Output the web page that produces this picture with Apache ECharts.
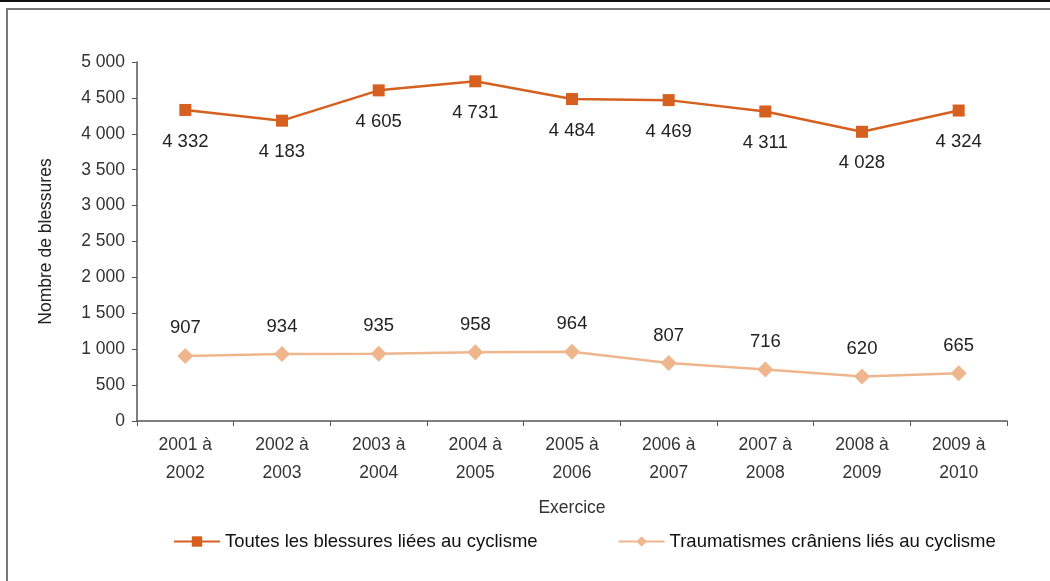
<!DOCTYPE html>
<html>
<head>
<meta charset="utf-8">
<script src="https://cdn.jsdelivr.net/npm/echarts@6/dist/echarts.min.js"></script>
<style>
  html, body { margin: 0; padding: 0; background: #fff; }
  #chartDom { width: 1050px; height: 581px; }
</style>
</head>
<body>
<div id="chartDom"></div>
<script>
var categories = ['2001 à\n2002', '2002 à\n2003', '2003 à\n2004', '2004 à\n2005', '2005 à\n2006',
  '2006 à\n2007', '2007 à\n2008', '2008 à\n2009', '2009 à\n2010'];
var toutes = [4332, 4183, 4605, 4731, 4484, 4469, 4311, 4028, 4324];
var craniens = [907, 934, 935, 958, 964, 807, 716, 620, 665];
var seriesNames = ['Toutes les blessures liées au cyclisme', 'Traumatismes crâniens liés au cyclisme'];

var font = '"Liberation Sans Narrow", "Arial Narrow", "Liberation Sans", sans-serif';

function fmt(v) {
  return String(v).replace(/\B(?=(\d{3})+(?!\d))/g, ' ');
}

var myChart = echarts.init(document.getElementById('chartDom'));

var option = {
  animation: false,
  textStyle: { fontFamily: font },
  graphic: [
    { type: 'line', shape: { x1: 0, y1: 1, x2: 1050, y2: 1 }, style: { stroke: '#111', lineWidth: 2 } },
    { type: 'polyline', shape: { points: [[7, 581], [7, 9], [1050, 9]] }, style: { stroke: '#777', lineWidth: 2, fill: null } }
  ],
  grid: { left: 137, right: 43, top: 62, bottom: 160 },
  legend: {
    bottom: 25,
    left: 168,
    itemGap: 80,
    itemWidth: 46,
    itemHeight: 13,
    textStyle: { fontFamily: font, fontSize: 18.5, color: '#111' },
    data: seriesNames
  },
  xAxis: {
    type: 'category',
    data: categories,
    name: 'Exercice',
    nameLocation: 'middle',
    nameGap: 78,
    nameTextStyle: { fontFamily: font, fontSize: 17.5, color: '#333' },
    axisLine: { lineStyle: { color: '#555', width: 1.5 } },
    axisTick: { show: true, length: 5, lineStyle: { color: '#555' } },
    axisLabel: { fontFamily: font, fontSize: 17.5, color: '#333', lineHeight: 28, margin: 10 }
  },
  yAxis: {
    type: 'value',
    min: 0,
    max: 5000,
    interval: 500,
    name: 'Nombre de blessures',
    nameLocation: 'middle',
    nameGap: 82,
    nameTextStyle: { fontFamily: font, fontSize: 17.5, color: '#222' },
    axisLine: { show: true, lineStyle: { color: '#555', width: 1.5 } },
    axisTick: { show: true, length: 5, lineStyle: { color: '#555' } },
    splitLine: { show: false },
    axisLabel: { fontFamily: font, fontSize: 17.5, color: '#333', margin: 12, formatter: fmt }
  },
  series: [
    {
      name: seriesNames[0],
      type: 'line',
      data: toutes,
      symbol: 'rect',
      symbolSize: 12,
      itemStyle: { color: '#D5601F' },
      lineStyle: { color: '#D5601F', width: 2.5 },
      label: {
        show: true, position: 'bottom', distance: 16,
        fontFamily: font, fontSize: 18.5, color: '#222',
        formatter: function (p) { return fmt(p.value); }
      }
    },
    {
      name: seriesNames[1],
      type: 'line',
      data: craniens,
      symbol: 'diamond',
      symbolSize: 16,
      itemStyle: { color: '#EFB58D' },
      lineStyle: { color: '#EFB58D', width: 2.5 },
      label: {
        show: true, position: 'top', distance: 10,
        fontFamily: font, fontSize: 18.5, color: '#222',
        formatter: function (p) { return fmt(p.value); }
      }
    }
  ]
};

myChart.setOption(option);
</script>
</body>
</html>
